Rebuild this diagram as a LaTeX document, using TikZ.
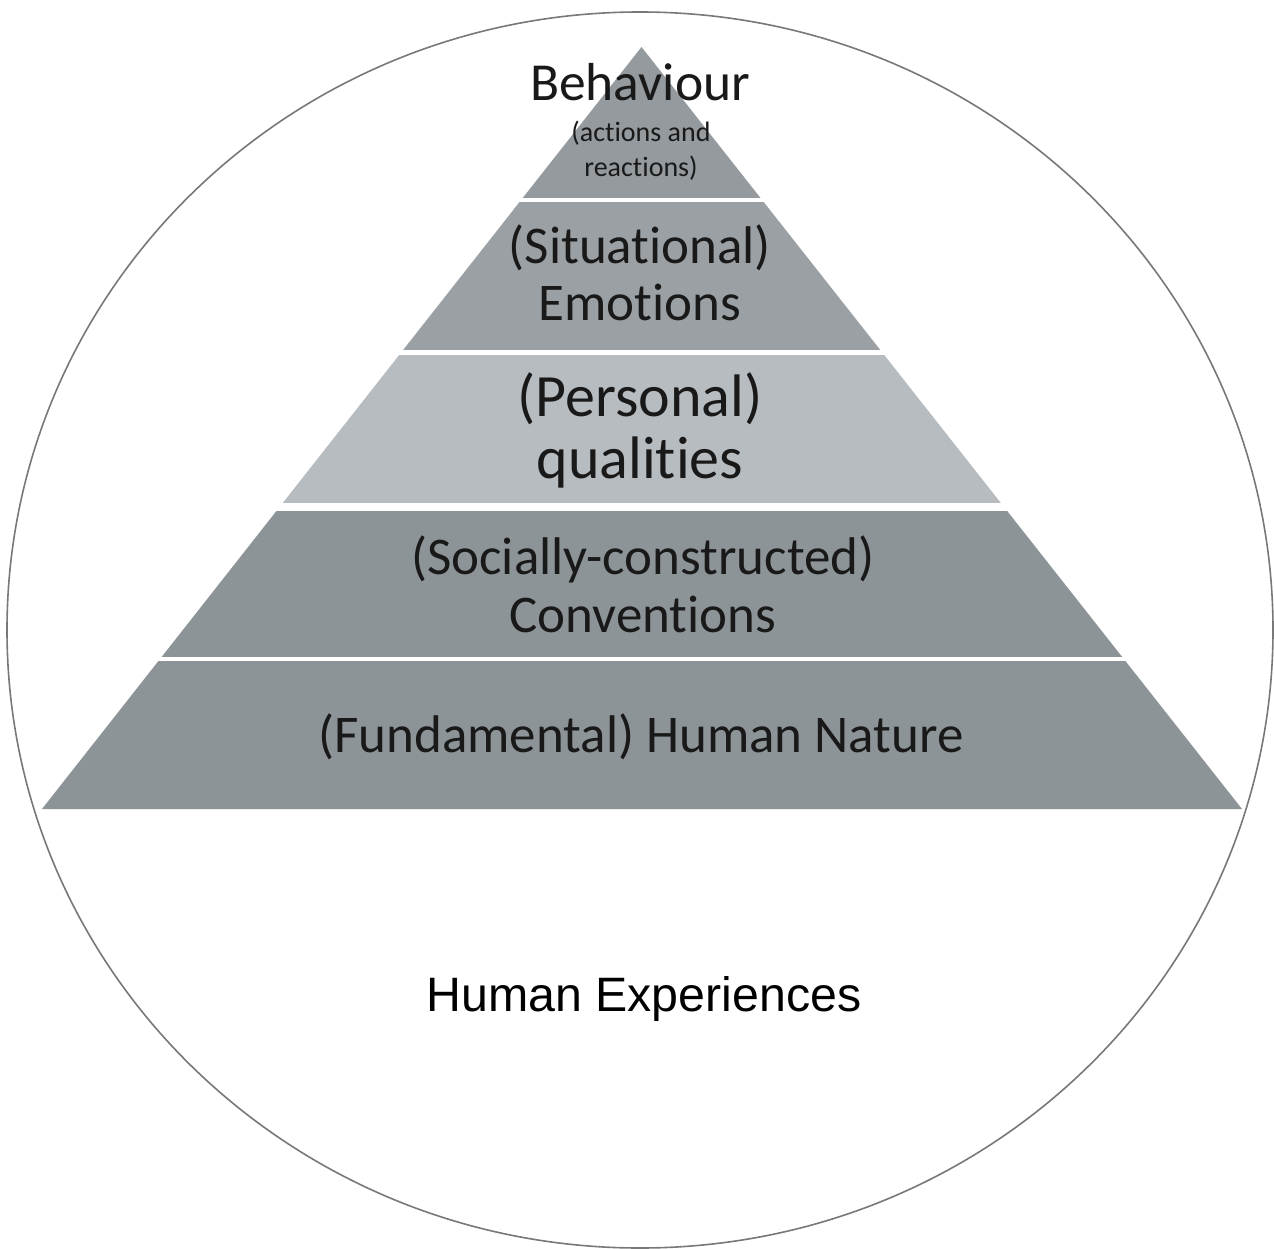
\documentclass[tikz,border=0pt]{standalone}
\usepackage{fontspec}
\setmainfont{Carlito}
\newfontfamily\arialfont{Liberation Sans}
% keep "t" and "i" as separate glyphs
\newcommand\tiglyph{t\kern0pt i}
\definecolor{bandtop}{RGB}{148,154,158}
\definecolor{bandemo}{RGB}{154,160,164}
\definecolor{bandlight}{RGB}{183,188,193}
\definecolor{banddark}{RGB}{141,148,152}
\definecolor{ringgray}{RGB}{120,120,120}
\definecolor{inktext}{RGB}{25,25,25}
\begin{document}
\begin{tikzpicture}[x=1pt,y=-1pt,
  lbl/.style={font=\fontsize{53}{60}\selectfont, text=inktext, anchor=base, inner sep=0pt},
  biglbl/.style={font=\fontsize{60}{66}\selectfont, text=inktext, anchor=base, inner sep=0pt},
  smalllbl/.style={font=\fontsize{28}{34}\selectfont, text=inktext, anchor=base, inner sep=0pt}]
\useasboundingbox (0,0) rectangle (1274,1249);
\fill[white] (0,0) rectangle (1274,1249);

% outer ring
\draw[ringgray, line width=1.6pt] (640,630) ellipse [x radius=633, y radius=618];

% pyramid, cut into five bands separated by thin white gaps
\coordinate (apex) at (641.5,47);
\coordinate (bl) at (42,809);
\coordinate (br) at (1242,809);
\begin{scope}
  \clip (apex) -- (bl) -- (br) -- cycle;
  \fill[bandtop]   (0,40)  rectangle (1274,198);
  \fill[bandemo]   (0,202) rectangle (1274,350);
  \fill[bandlight] (0,355) rectangle (1274,503);
  \fill[banddark]  (0,511) rectangle (1274,657);
  \fill[banddark]  (0,661) rectangle (1274,810);
\end{scope}

% band labels
\node[lbl, font=\fontsize{53.5}{60}\selectfont] (beh) at (640,101) {Behaviour};
\node[smalllbl] (act) at (641,142) {(ac\tiglyph ons and};
\node[smalllbl] (react) at (641,177) {reac\tiglyph ons)};

\node[lbl] (sit) at (640,264) {(Situa\tiglyph onal)};
\node[lbl] (emo) at (640,320) {Emo\tiglyph ons};

\node[biglbl] (pers) at (640,416) {(Personal)};
\node[biglbl] (qual) at (640,478) {quali\tiglyph es};

\node[lbl] (soc) at (643,574) {(Socially-constructed)};
\node[lbl] (conv) at (643,632) {Conven\tiglyph ons};

\node[lbl] (hn) at (641,752) {(Fundamental) Human Nature};

\node[anchor=base, inner sep=0pt, text=black, font=\arialfont\fontsize{48.3}{54}\selectfont] (hexp) at (644,1011) {Human Experiences};
\end{tikzpicture}
\end{document}
